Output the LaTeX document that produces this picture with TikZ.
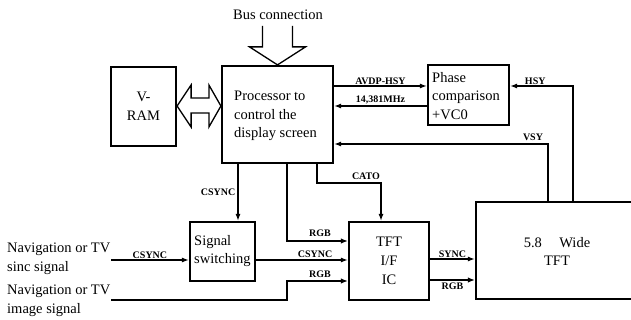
\documentclass[tikz,border=0pt]{standalone}
\usepackage{fontspec}
\setmainfont{Liberation Serif}
\usetikzlibrary{arrows.meta,calc}
\begin{document}
\begin{tikzpicture}[x=1pt,y=-1pt,
 box/.style={draw,line width=2.2pt,inner sep=0pt},
 big/.style={font=\fontsize{14.5}{18.7}\selectfont,inner sep=0pt},
 lab/.style={font=\fontsize{10}{12}\selectfont\bfseries,inner sep=1pt},
 sig/.style={line width=1.2pt,-{Latex[length=7pt,width=5pt]}},
 thk/.style={line width=2.6pt,line join=miter,-{Latex[length=7pt,width=5.5pt]}},
 hollow/.style={line width=1.3pt,line join=miter}]
\useasboundingbox (0,0) rectangle (631,320);
\clip (0,0) rectangle (631,320);
% boxes
\node[box,big,align=center,minimum width=65pt,minimum height=79pt] (vram) at (143.5,106.5) {V-\\RAM};
\node[box,minimum width=111pt,minimum height=97pt] (proc) at (277.5,114.5) {};
\node[big,align=left,anchor=west] (proct) at (234,116) {Processor to\\control the\\display screen};
\node[box,minimum width=81pt,minimum height=60pt] (phase) at (468.5,95) {};
\node[big,align=left,anchor=west] (phaset) at (432,96) {Phase\\comparison\\+VC0};
\node[box,minimum width=65pt,minimum height=59pt] (sw) at (222.5,251.5) {};
\node[big,align=left,anchor=west] (swt) at (194,251) {Signal\\switching};
\node[box,big,align=center,minimum width=80pt,minimum height=78pt] (ic) at (389,261) {TFT\\I/F\\IC};
\node[box,minimum width=184pt,minimum height=97pt] (tft) at (568,250.5) {};
\node[big,align=center] (tftt) at (557,251.5) {5.8\hspace{1.2em}Wide\\TFT};
% free texts
\node[big] (bus) at (278,15) {Bus connection};
\node[big,align=left,anchor=west] (nav1) at (7,259) {Navigation or TV\\sinc signal};
\node[big,align=left,anchor=west] (nav2) at (7,301) {Navigation or TV\\image signal};
% helper coordinates
\coordinate (yA) at (0,86);
\coordinate (yB) at (0,106);
\coordinate (yV) at (0,144);
\coordinate (xH) at (573,0);
\coordinate (xV) at (548,0);
\coordinate (xC) at (238,0);
\coordinate (xK) at (317,183);
\coordinate (xK2) at (381,183);
\coordinate (xR) at (287,0);
\coordinate (yr1) at (0,241);
\coordinate (yr2) at (0,281);
\coordinate (ysw) at (0,260);
\coordinate (ysync) at (0,259);
\coordinate (yrgb) at (0,280);
\coordinate (in1) at (111,260);
\coordinate (in2) at (111,300);
% hollow arrows
\draw[hollow] ($(proc.north)+(-15,-39)$) -- ($(proc.north)+(-15,-18)$) -- ($(proc.north)+(-28,-18)$) -- (proc.north) -- ($(proc.north)+(28,-18)$) -- ($(proc.north)+(15,-18)$) -- ($(proc.north)+(15,-39)$);
\coordinate (dl) at ($(vram.east)+(0,-0.5)$);
\coordinate (dr) at (proc.west |- dl);
\draw[hollow] (dl) -- ($(dl)+(14,-21)$) -- ($(dl)+(14,-8)$) -- ($(dr)+(-12,-8)$) -- ($(dr)+(-12,-21)$) -- (dr) -- ($(dr)+(-12,21)$) -- ($(dr)+(-12,7)$) -- ($(dl)+(14,7)$) -- ($(dl)+(14,21)$) -- cycle;
% connectors
\draw[sig] (proc.east |- yA) -- node[lab,above] (lavdp) {AVDP-HSY} (phase.west |- yA);
\draw[sig] (phase.west |- yB) -- node[lab,above] (lmhz) {14,381MHz} (proc.east |- yB);
\draw[sig] (xH |- tft.north) -- (xH |- yA) -- node[lab,above,pos=0.6] (lhsy) {HSY} (phase.east |- yA);
\draw[sig] (xV |- tft.north) -- (xV |- yV) -- (proc.east |- yV);
\node[lab] (lvsy) at (533,137) {VSY};
\draw[sig] (xC |- proc.south) -- node[lab,left,pos=0.5,xshift=-1pt] (lcs1) {CSYNC} (xC |- sw.north);
\draw[sig] (xK |- proc.south) -- (xK) -- (xK2) -- (xK2 |- ic.north);
\node[lab] (lcato) at (366,176) {CATO};
\draw[thk] (xR |- proc.south) -- (xR |- yr1) -- (ic.west |- yr1);
\node[lab] (lrgb1) at (320,233) {RGB};
\draw[sig] (sw.east |- ysw) -- (ic.west |- ysw);
\node[lab] (lcs2) at (315,254) {CSYNC};
\draw[sig] (in1) -- node[lab,above] (lcs3) {CSYNC} (sw.west |- in1);
\draw[thk] (in2) -- (xR |- in2) -- (xR |- yr2) -- (ic.west |- yr2);
\node[lab] (lrgb2) at (320,274) {RGB};
\draw[sig] (ic.east |- ysync) -- node[lab,above] (lsync) {SYNC} (tft.west |- ysync);
\draw[thk] (ic.east |- yrgb) -- node[lab,below,yshift=-1pt] (lrgb3) {RGB} (tft.west |- yrgb);
\end{tikzpicture}
\end{document}
